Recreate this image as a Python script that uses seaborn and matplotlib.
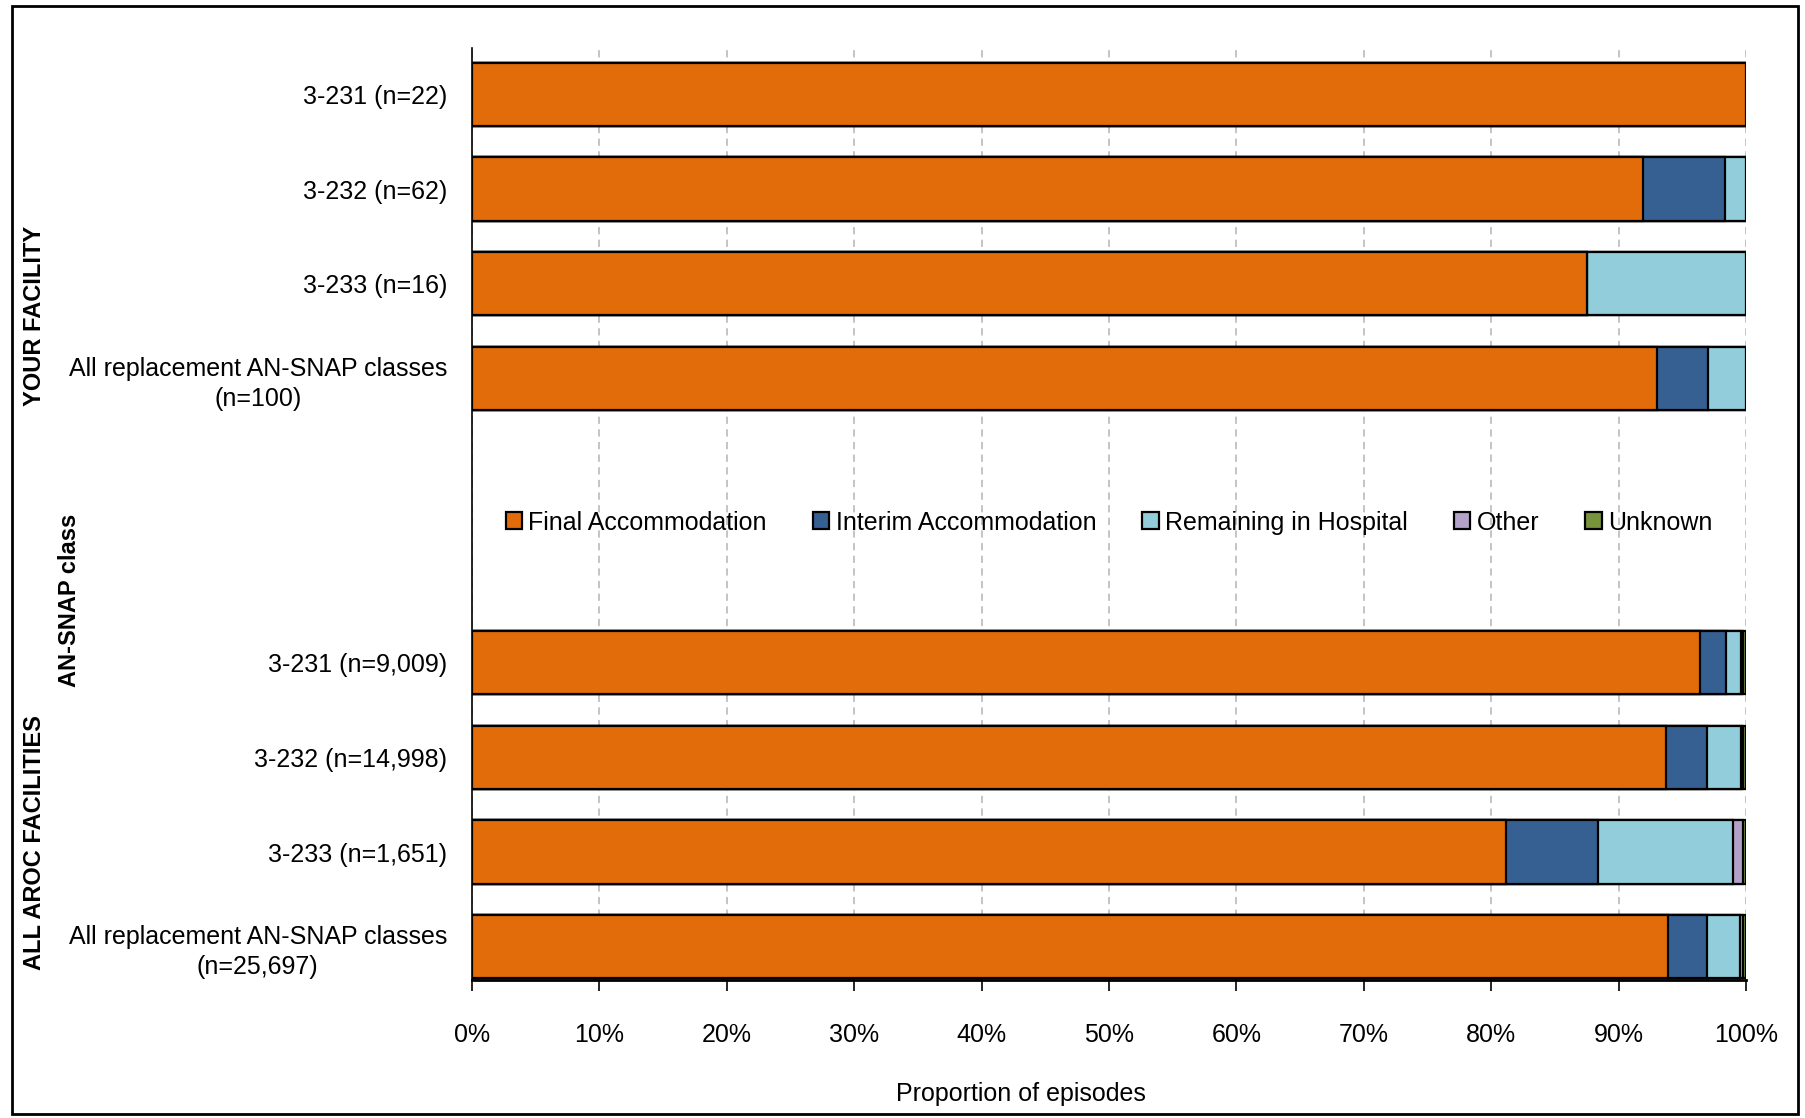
import numpy as np
import pandas as pd
import matplotlib
matplotlib.use("Agg")
import matplotlib.pyplot as plt
from matplotlib.patches import Patch, Rectangle
import seaborn as sns

# ---- data ----
categories = [
    "3-231 (n=22)",
    "3-232 (n=62)",
    "3-233 (n=16)",
    "All replacement AN-SNAP classes\n(n=100)",
    "3-231 (n=9,009)",
    "3-232 (n=14,998)",
    "3-233 (n=1,651)",
    "All replacement AN-SNAP classes\n(n=25,697)",
]
series_names = ["Final Accommodation", "Interim Accommodation",
                "Remaining in Hospital", "Other", "Unknown"]
final_acc = [100.0, 91.94, 87.5, 93.0, 96.4, 93.7, 81.2, 93.9]
interim_acc = [0.0, 6.45, 0.0, 4.0, 2.0, 3.2, 7.2, 3.0]
remaining = [0.0, 1.61, 12.5, 3.0, 1.2, 2.7, 10.6, 2.6]
other = [0.0, 0.0, 0.0, 0.0, 0.15, 0.15, 0.8, 0.25]
unknown = [0.0, 0.0, 0.0, 0.0, 0.25, 0.25, 0.2, 0.25]
colors = ["#E36C0A", "#366092", "#92CDDC", "#B2A2C7", "#77933C"]
x_ticks = [0, 10, 20, 30, 40, 50, 60, 70, 80, 90, 100]
x_tick_labels = [f"{t}%" for t in x_ticks]

# category order with two empty slots between the groups
order = categories[:4] + [" ", "  "] + categories[4:]

values = np.array([final_acc, interim_acc, remaining, other, unknown])
cum = np.cumsum(values, axis=0)

FONT = ["Liberation Sans Narrow", "Liberation Sans", "DejaVu Sans"]
sns.set_theme(style="white")
plt.rcParams["font.family"] = FONT
for k in ["text.color", "axes.labelcolor", "xtick.color", "ytick.color"]:
    plt.rcParams[k] = "black"
FS = 18

fig = plt.figure(figsize=(18.05, 11.18), dpi=100)
W, H = 1805, 1118
ax = fig.add_axes([472 / W, 1 - 980 / H, (1746 - 472) / W, (980 - 48) / H])

for i in range(len(series_names) - 1, -1, -1):
    df = pd.DataFrame({"category": categories, "cum": cum[i]})
    sns.barplot(data=df, x="cum", y="category", order=order, orient="h",
                color=colors[i], saturation=1, width=0.668,
                edgecolor="black", linewidth=1.6, ax=ax, zorder=3)

ax.set_xlim(0, 100)
ax.set_ylim(9.35, -0.49)
ax.set_xticks(x_ticks)
ax.set_xticklabels(x_tick_labels, fontsize=FS)
ax.set_xlabel("")
ax.set_ylabel("")
for lbl in ax.get_yticklabels():
    lbl.set_fontsize(FS)
    lbl.set_multialignment("center")
    lbl.set_linespacing(1.3)
ax.tick_params(axis="y", length=0, pad=18)
ax.tick_params(axis="x", length=8, width=1.2, color="black", direction="out",
               pad=23, bottom=True)

ax.xaxis.grid(True, linestyle=(0, (4, 3)), color="#BFBFBF", linewidth=1.3, zorder=0)
ax.yaxis.grid(False)
ax.set_axisbelow(True)
for s in ["top", "right"]:
    ax.spines[s].set_visible(False)
ax.spines["left"].set_color("black")
ax.spines["left"].set_linewidth(1.2)
ax.spines["bottom"].set_color("black")
ax.spines["bottom"].set_linewidth(2.0)

handles = [Patch(facecolor=c, edgecolor="black", linewidth=1.6) for c in colors]
ax.legend(handles, series_names, loc="center", bbox_to_anchor=(50, 4.52),
          bbox_transform=ax.transData, ncol=5, frameon=False, fontsize=FS,
          handlelength=0.65, handleheight=0.65, handletextpad=0.25,
          columnspacing=1.85, borderaxespad=0)

fig.text(34.5 / W, 1 - 316 / H, "YOUR FACILITY", rotation=90, ha="center",
         va="center", fontsize=17, fontweight="bold")
fig.text(34.5 / W, 1 - 843 / H, "ALL AROC FACILITIES", rotation=90, ha="center",
         va="center", fontsize=17, fontweight="bold")
fig.text(69 / W, 1 - 600 / H, "AN-SNAP class", rotation=90, ha="center",
         va="center", fontsize=17, fontweight="bold")
fig.text(1021 / W, 1 - 1094 / H, "Proportion of episodes", ha="center",
         va="center", fontsize=FS)

fig.patches.append(Rectangle((12 / W, 4 / H), (1798 - 12) / W, (1112 - 4) / H,
                             transform=fig.transFigure, fill=False,
                             edgecolor="black", linewidth=2.0))

fig.savefig("out.png", dpi=100)
